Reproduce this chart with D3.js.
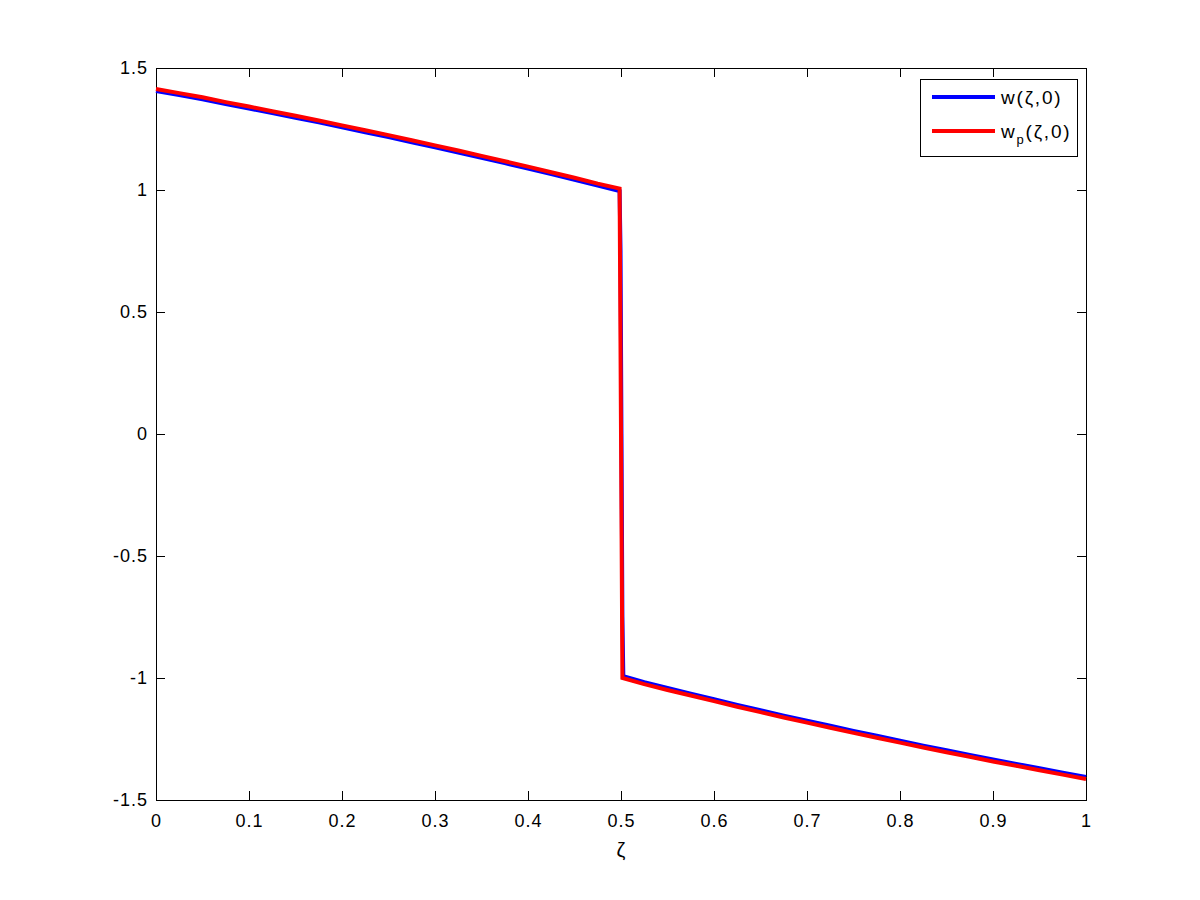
<!DOCTYPE html>
<html>
<head>
<meta charset="utf-8">
<script src="https://cdn.jsdelivr.net/npm/d3@7"></script>
<style>
  html, body { margin: 0; padding: 0; background: #fff; }
  svg { display: block; }
  text { font-family: "Liberation Sans", Arial, Helvetica, sans-serif; }
</style>
</head>
<body>
<svg id="chart" width="1200" height="900"></svg>
<script>
// ---- data ----
const zeta = [0, 0.025, 0.05, 0.075, 0.1, 0.125, 0.15, 0.175, 0.2, 0.225, 0.25,
              0.275, 0.3, 0.325, 0.35, 0.375, 0.4, 0.425, 0.45, 0.475, 0.4985];
const zetaRightW = [0.5025, 0.525, 0.55, 0.575, 0.6, 0.625, 0.65, 0.675, 0.7, 0.725, 0.75,
                    0.775, 0.8, 0.825, 0.85, 0.875, 0.9, 0.925, 0.95, 0.975, 1.0];
const zetaRightP = [0.5015, 0.525, 0.55, 0.575, 0.6, 0.625, 0.65, 0.675, 0.7, 0.725, 0.75,
                    0.775, 0.8, 0.825, 0.85, 0.875, 0.9, 0.925, 0.95, 0.975, 1.0];

// w(zeta,0)  (blue)
const wLeft  = [1.406, 1.389, 1.372, 1.352, 1.334, 1.315, 1.296, 1.277, 1.257, 1.237, 1.217,
                1.196, 1.175, 1.154, 1.132, 1.110, 1.088, 1.065, 1.042, 1.018, 0.996];
const wJumpZeta = [0.4995, 0.5005, 0.5015];
const wJump  = [0.75, 0.0, -0.75];
const wRight = [-0.992, -1.017, -1.041, -1.064, -1.087, -1.110, -1.132, -1.154, -1.175, -1.196, -1.217,
                -1.237, -1.257, -1.277, -1.296, -1.315, -1.334, -1.352, -1.370, -1.388, -1.406];

// w_p(zeta,0) (red)
const wpLeft  = [1.414, 1.397, 1.380, 1.360, 1.342, 1.323, 1.304, 1.285, 1.265, 1.245, 1.225,
                 1.204, 1.183, 1.162, 1.140, 1.118, 1.096, 1.073, 1.050, 1.026, 1.006];
const wpRight = [-1.0, -1.025, -1.049, -1.072, -1.095, -1.118, -1.140, -1.162, -1.183, -1.204, -1.225,
                 -1.245, -1.265, -1.285, -1.304, -1.323, -1.342, -1.360, -1.378, -1.396, -1.414];

const xTicks = [0, 0.1, 0.2, 0.3, 0.4, 0.5, 0.6, 0.7, 0.8, 0.9, 1];
const yTicks = [-1.5, -1, -0.5, 0, 0.5, 1, 1.5];
const xLabel = "ζ";
const legendLabels = ["w", "w"];
const legendSubs = ["", "p"];
const legendTails = ["(ζ,0)", "(ζ,0)"];
const colors = ["#0000ff", "#ff0000"];

(function () {
function pairs(xs, ys) { return xs.map((v, i) => ({x: v, y: ys[i]})); }
const wSeries = pairs(zeta, wLeft).concat(pairs(wJumpZeta, wJump), pairs(zetaRightW, wRight));
const wpSeries = pairs(zeta, wpLeft).concat(pairs(zetaRightP, wpRight));

const svg = d3.select("#chart");
const mLeft = 156, mRight = 1086, mTop = 68, mBottom = 800;
const x = d3.scaleLinear().domain([0, 1]).range([mLeft, mRight]);
const y = d3.scaleLinear().domain([-1.5, 1.5]).range([mBottom, mTop]);
const tickLen = 9;

svg.append("rect").attr("x", 0).attr("y", 0).attr("width", 1200).attr("height", 900).attr("fill", "#fff");

const fontSize = 18;
const fmt = d => String(d);
const xAxisB = d3.axisBottom(x).tickValues(xTicks).tickSize(-tickLen).tickPadding(14).tickFormat(fmt);
const xAxisT = d3.axisTop(x).tickValues(xTicks).tickSize(-tickLen).tickFormat("");
const yAxisL = d3.axisLeft(y).tickValues(yTicks).tickSize(-tickLen).tickPadding(8).tickFormat(fmt);
const yAxisR = d3.axisRight(y).tickValues(yTicks).tickSize(-tickLen).tickFormat("");

function style(g) {
  g.attr("font-size", fontSize).attr("font-family", null);
  g.select(".domain").remove();
  g.selectAll("line").attr("stroke", "#000").attr("stroke-width", 1);
  g.selectAll("text").attr("fill", "#000").style("font-size", fontSize + "px")
    .attr("letter-spacing", "1px");
}
svg.append("g").attr("transform", `translate(0,${mBottom})`).call(xAxisB).call(style);
svg.append("g").attr("transform", `translate(0,${mTop})`).call(xAxisT).call(style);
svg.append("g").attr("transform", `translate(${mLeft},0)`).call(yAxisL).call(style);
svg.append("g").attr("transform", `translate(${mRight},0)`).call(yAxisR).call(style);

svg.append("rect").attr("x", mLeft + 0.5).attr("y", mTop + 0.5)
  .attr("width", mRight - mLeft).attr("height", mBottom - mTop)
  .attr("fill", "none").attr("stroke", "#000").attr("stroke-width", 1);

const line = d3.line().x(d => x(d.x)).y(d => y(d.y));
svg.append("path").datum(wSeries).attr("d", line)
  .attr("fill", "none").attr("stroke", colors[0]).attr("stroke-width", 4);
svg.append("path").datum(wpSeries).attr("d", line)
  .attr("fill", "none").attr("stroke", colors[1]).attr("stroke-width", 4);

svg.append("text").attr("x", (mLeft + mRight) / 2).attr("y", 857)
  .attr("text-anchor", "middle").style("font-size", "20px").text(xLabel);

const lg = svg.append("g");
const lgX = 920, lgY = 79, lgW = 157, lgH = 77;
lg.append("rect").attr("x", lgX + 0.5).attr("y", lgY + 0.5).attr("width", lgW).attr("height", lgH)
  .attr("fill", "#fff").attr("stroke", "#000").attr("stroke-width", 1);
const rowY = [97, 131];
legendLabels.forEach((lab, i) => {
  lg.append("line").attr("x1", 932).attr("x2", 995).attr("y1", rowY[i]).attr("y2", rowY[i])
    .attr("stroke", colors[i]).attr("stroke-width", 4);
  const t = lg.append("text").attr("x", 1001).attr("y", rowY[i] + 7)
    .style("font-size", "19px").attr("letter-spacing", "1.8px");
  t.append("tspan").text(lab);
  if (legendSubs[i]) {
    t.append("tspan").attr("dy", 6).style("font-size", "13px").text(legendSubs[i]);
    t.append("tspan").attr("dy", -6).text(legendTails[i]);
  } else {
    t.append("tspan").text(legendTails[i]);
  }
});
})();
</script>
</body>
</html>
